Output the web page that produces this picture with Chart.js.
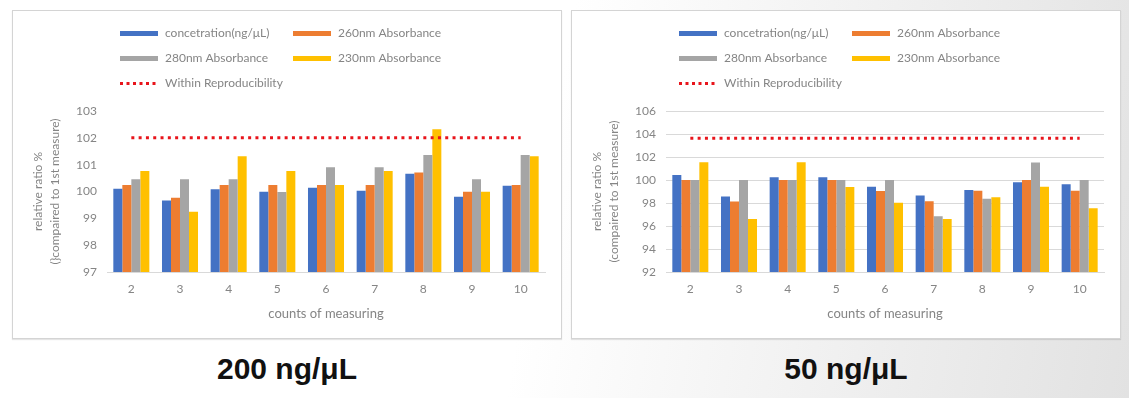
<!DOCTYPE html>
<html>
<head>
<meta charset="utf-8">
<script src="https://cdn.jsdelivr.net/npm/chart.js@4.4.1/dist/chart.umd.min.js"></script>
<style>
  html, body { margin: 0; padding: 0; }
  body {
    width: 1129px; height: 398px; overflow: hidden; position: relative;
    background: linear-gradient(100deg, #ffffff 48%, #e2e2e2 100%);
  }
  .panel {
    position: absolute; top: 10px; width: 548px; height: 327px;
    background: #fff; border: 1px solid #d4d4d4;
    box-shadow: 0 1px 1px rgba(0,0,0,0.10);
  }
  #p1 { left: 12px; }
  #p2 { left: 571px; }
  .cap {
    position: absolute; top: 352px; width: 550px; text-align: center;
    font: bold 30px "Liberation Sans", Arial, sans-serif; color: #111;
  }
</style>
</head>
<body>
<div class="panel" id="p1"><canvas id="chart200" width="548" height="327"></canvas></div>
<div class="panel" id="p2"><canvas id="chart50" width="548" height="327"></canvas></div>
<div class="cap" style="left:12px">200 ng/μL</div>
<div class="cap" style="left:571px">50 ng/μL</div>
<script>
// counts of measuring
const counts = ["2", "3", "4", "5", "6", "7", "8", "9", "10"];
const seriesNames = ["concetration(ng/μL)", "260nm Absorbance", "280nm Absorbance", "230nm Absorbance"];
const limitName = "Within Reproducibility";

// 200 ng/uL
const conc200 = [100.10, 99.66, 100.08, 99.99, 100.14, 100.03, 100.66, 99.80, 100.21];
const abs260_200 = [100.24, 99.77, 100.24, 100.24, 100.24, 100.24, 100.71, 99.99, 100.24];
const abs280_200 = [100.46, 100.46, 100.46, 99.98, 100.90, 100.90, 101.36, 100.46, 101.36];
const abs230_200 = [100.76, 99.25, 101.31, 100.76, 100.24, 100.76, 102.32, 99.99, 101.31];
const limit200 = [102, 102, 102, 102, 102, 102, 102, 102, 102];
const ticks200 = [97, 98, 99, 100, 101, 102, 103];

// 50 ng/uL
const conc50 = [100.44, 98.57, 100.23, 100.23, 99.42, 98.66, 99.12, 99.80, 99.62];
const abs260_50 = [100.00, 98.13, 100.00, 100.00, 99.04, 98.16, 99.07, 100.00, 99.06];
const abs280_50 = [100.00, 100.00, 100.00, 100.00, 100.00, 96.85, 98.37, 101.52, 100.00];
const abs230_50 = [101.55, 96.61, 101.55, 99.39, 98.03, 96.61, 98.51, 99.42, 97.55];
const limit50 = [103.62, 103.62, 103.62, 103.62, 103.62, 103.62, 103.62, 103.62, 103.62];
const ticks50 = [92, 94, 96, 98, 100, 102, 104, 106];

const COLORS = ["#4472C4", "#ED7D31", "#A5A5A5", "#FFC000"];
const RED = "#E8141B";
const TXT = "#858585";
const FONT = "Lato, 'Open Sans', sans-serif";

// Excel style legend: two fixed columns, built from the datasets
const gridLegend = {
    id: 'gridLegend',
    afterDraw(chart) {
        const ctx = chart.ctx;
        const x0 = chart.chartArea.left + 13;
        ctx.save();
        ctx.font = "12px " + FONT;
        ctx.textBaseline = 'middle';
        chart.data.datasets.forEach((ds, i) => {
            let x = x0 + (i % 2) * 173;
            let y = 22.5 + Math.floor(i / 2) * 25;
            if (ds.type === 'line') {
                ctx.strokeStyle = ds.borderColor;
                ctx.lineWidth = 3;
                ctx.setLineDash([3, 3.5]);
                ctx.beginPath();
                ctx.moveTo(x, y);
                ctx.lineTo(x + 38, y);
                ctx.stroke();
                ctx.setLineDash([]);
            } else {
                ctx.fillStyle = ds.backgroundColor;
                ctx.fillRect(x, y - 2.5, 38, 5);
            }
            ctx.fillStyle = TXT;
            ctx.fillText(ds.label, x + 45, y);
        });
        ctx.restore();
    }
};

function makeChart(id, series, limit, tickVals, yTitle, showGrid) {
    let datasets = series.map((vals, i) => ({
        label: seriesNames[i],
        data: vals,
        backgroundColor: COLORS[i],
        borderWidth: 0,
        categoryPercentage: 0.74,
        barPercentage: 1.0,
        order: 1
    }));
    datasets.push({
        type: 'line',
        label: limitName,
        data: limit,
        borderColor: RED,
        backgroundColor: RED,
        borderWidth: 3,
        borderDash: [3, 4.3],
        pointRadius: 0,
        fill: false,
        order: 0
    });

    return new Chart(document.getElementById(id), {
        type: 'bar',
        data: { labels: counts, datasets: datasets },
        plugins: [gridLegend],
        options: {
            responsive: false,
            animation: false,
            layout: { padding: { top: 100, right: 16, bottom: 0, left: 0 } },
            plugins: {
                tooltip: { enabled: false },
                legend: { display: false }
            },
            scales: {
                x: {
                    grid: { display: false, drawTicks: false },
                    border: { display: true, color: "#d9d9d9", width: 1 },
                    ticks: { color: TXT, padding: 10, font: { family: FONT, size: 12 } },
                    title: {
                        display: true, text: "counts of measuring", color: TXT,
                        font: { family: FONT, size: 13 }, padding: { top: 0, bottom: 16 }
                    },
                    afterFit(scale) { scale.height = 66; }
                },
                y: {
                    min: tickVals[0],
                    max: tickVals[tickVals.length - 1],
                    afterBuildTicks(scale) { scale.ticks = tickVals.map(v => ({ value: v })); },
                    grid: { display: showGrid, drawTicks: false, color: "#d9d9d9" },
                    border: { display: false },
                    ticks: { color: TXT, padding: 10, font: { family: FONT, size: 12 } },
                    title: {
                        display: true, text: yTitle, color: TXT,
                        font: { family: FONT, size: 12, lineHeight: 1.4 }, padding: { top: 17, bottom: 0 }
                    },
                    afterFit(scale) { scale.width = 94; }
                }
            }
        }
    });
}

makeChart("chart200", [conc200, abs260_200, abs280_200, abs230_200], limit200, ticks200,
    ["relative ratio %", "(}compaired to 1st measure)"], false);
makeChart("chart50", [conc50, abs260_50, abs280_50, abs230_50], limit50, ticks50,
    ["relative ratio %", "(compaired to 1st measure)"], true);
</script>
</body>
</html>
